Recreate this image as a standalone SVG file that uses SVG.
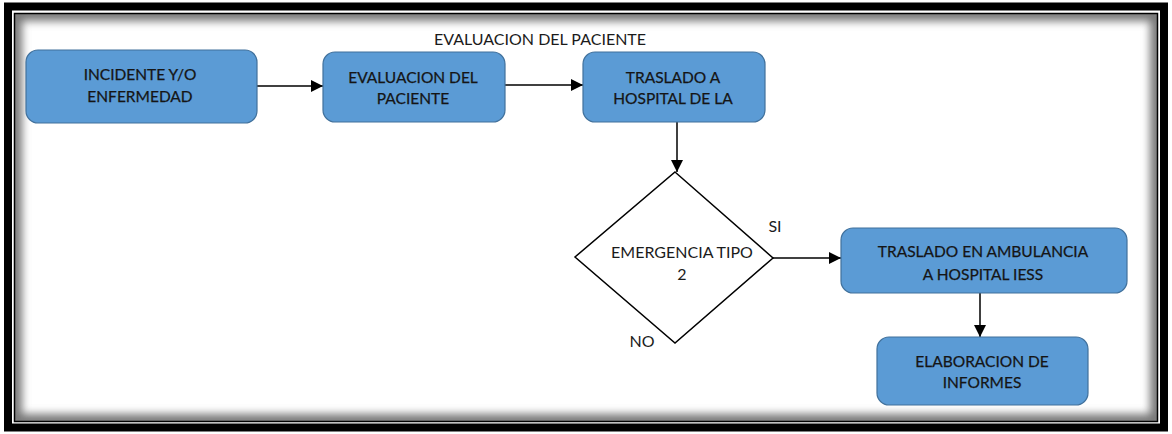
<svg xmlns="http://www.w3.org/2000/svg" width="1172" height="434" viewBox="0 0 1172 434">
<defs>
<style>
.box{fill:#5B9BD5;stroke:#41719C;stroke-width:1.2}
.t{font-family:Lato,"Open Sans","Liberation Sans",sans-serif;font-size:15.5px;fill:#151515;text-anchor:middle;stroke:#151515;stroke-width:0.25}
.lbl{font-family:Lato,"Open Sans","Liberation Sans",sans-serif;font-size:16px;fill:#1b1b1b;text-anchor:middle}
.c{stroke:#000;stroke-width:1.5;fill:none;marker-end:url(#ah)}
</style>
<marker id="ah" viewBox="0 0 12 12" refX="12" refY="6" markerWidth="12" markerHeight="12" markerUnits="userSpaceOnUse" orient="auto">
<path d="M0,0 L12,6 L0,12 z" fill="#000"/>
</marker>
<filter id="blur" x="-5%" y="-5%" width="110%" height="110%"><feGaussianBlur stdDeviation="4"/></filter>
<clipPath id="inner"><rect x="15" y="14" width="1142" height="407"/></clipPath>
</defs>
<rect width="1172" height="434" fill="#fff"/>
<g id="frame">
<g clip-path="url(#inner)"><rect x="15" y="14" width="1142" height="407" fill="none" stroke="#777" stroke-width="14" filter="url(#blur)"/></g>
<rect x="8" y="6.5" width="1156" height="421" fill="none" stroke="#000" stroke-width="8"/>
<rect x="14.5" y="13.5" width="1143" height="408" fill="none" stroke="#000" stroke-width="1.5"/>
</g>
<g id="connectors">
<line class="c" x1="257" y1="86" x2="323" y2="86"/>
<line class="c" x1="505" y1="85" x2="583" y2="85"/>
<line class="c" x1="677" y1="122" x2="677" y2="172"/>
<line class="c" x1="773" y1="258" x2="841" y2="258"/>
<line class="c" x1="980" y1="293" x2="980" y2="337"/>
</g>
<g id="label-top"><text class="lbl" x="540" y="45">EVALUACION DEL PACIENTE</text></g>
<g id="n1"><rect class="box" x="26" y="50" width="231" height="73" rx="12"/><text class="t" x="140" y="80">INCIDENTE Y/O</text><text class="t" x="140" y="102">ENFERMEDAD</text></g>
<g id="n2"><rect class="box" x="323" y="52" width="182" height="70" rx="12"/><text class="t" x="413" y="83">EVALUACION DEL</text><text class="t" x="413" y="104">PACIENTE</text></g>
<g id="n3"><rect class="box" x="583" y="52" width="182" height="70" rx="12"/><text class="t" x="673" y="83">TRASLADO A</text><text class="t" x="673" y="104">HOSPITAL DE LA</text></g>
<g id="n4"><path d="M675,172 L773,258 L675,343 L575,257 Z" fill="#fff" stroke="#000" stroke-width="1.5"/><text class="lbl" x="682" y="258">EMERGENCIA TIPO</text><text class="lbl" x="682" y="280">2</text></g>
<g id="label-si"><text class="lbl" x="775" y="232">SI</text></g>
<g id="label-no"><text class="lbl" x="642" y="347">NO</text></g>
<g id="n5"><rect class="box" x="841" y="228" width="286" height="65" rx="12"/><text class="t" x="983" y="257">TRASLADO EN AMBULANCIA</text><text class="t" x="983" y="280">A HOSPITAL IESS</text></g>
<g id="n6"><rect class="box" x="877" y="337" width="211" height="68" rx="12"/><text class="t" x="982" y="367">ELABORACION DE</text><text class="t" x="982" y="388">INFORMES</text></g>
</svg>
